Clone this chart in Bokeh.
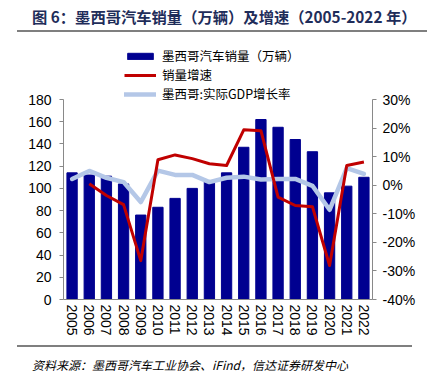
import math
from bokeh.plotting import figure
from bokeh.models import (Range1d, LinearAxis, FixedTicker, PrintfTickFormatter,
                          Legend, LegendItem, Div, FactorRange)
from bokeh.layouts import column
from bokeh.embed import file_html
from bokeh.resources import INLINE

# ---- data ----
years = [str(y) for y in range(2005, 2023)]
sales = [114, 112, 111, 104, 76, 83, 91, 100, 107, 114, 137, 162, 155, 144, 133, 96, 102, 110]
growth_years = years[1:]
growth = [0.5, -3.6, -6.8, -26.4, 8.9, 10.6, 9.3, 7.5, 6.9, 19.4, 19.1, -4.2, -7.1, -7.5, -28.1, 6.9, 8.1]
gdp = [2.2, 5.0, 2.6, 1.1, -5.9, 5.1, 3.6, 3.6, 1.1, 2.6, 3.0, 2.0, 2.2, 2.2, -0.2, -8.6, 6.0, 4.0]
left_ticks = [0, 20, 40, 60, 80, 100, 120, 140, 160, 180]
right_ticks = [-40, -30, -20, -10, 0, 10, 20, 30]

title_text = "图 6：墨西哥汽车销量（万辆）及增速（2005-2022 年）"
source_text = "资料来源：墨西哥汽车工业协会、iFind，信达证券研发中心"
label_sales = "墨西哥汽车销量（万辆）"
label_growth = "销量增速"
label_gdp = "墨西哥:实际GDP增长率"

BAR = "#000090"
RED = "#C00000"
LBLUE = "#B4C7E7"
AXIS = "#898989"
FONT = "Liberation Sans"
CJK = "Noto Sans CJK SC"

# frame is taller than the axes so the legend sits inside it, above the data
LEFT_TOP = 233.1
RIGHT_TOP = 50.65

p = figure(x_range=FactorRange(*years), y_range=Range1d(0, LEFT_TOP),
           width=410, height=313, output_backend="svg", toolbar_location=None,
           min_border_left=55, min_border_right=46, min_border_top=8, min_border_bottom=46)
p.extra_y_ranges = {"pct": Range1d(-40, RIGHT_TOP)}
p.outline_line_color = None
p.xgrid.grid_line_color = None
p.ygrid.grid_line_color = None
p.background_fill_color = "white"
p.border_fill_color = "white"

bars = p.vbar(x=years, top=sales, width=0.6, color=BAR)
blue = p.line(x=years, y=gdp, y_range_name="pct", line_color=LBLUE, line_width=4.5,
              line_join="round", line_cap="round")
red = p.line(x=growth_years, y=growth, y_range_name="pct", line_color=RED, line_width=3,
             line_join="round")

ax = p.yaxis[0]
ax.ticker = FixedTicker(ticks=left_ticks)
ax.bounds = (0, 180)
ax.axis_line_color = AXIS
ax.major_tick_line_color = AXIS
ax.major_tick_out = 4
ax.major_tick_in = 0
ax.minor_tick_line_color = None
ax.major_label_text_font = FONT
ax.major_label_text_font_size = "14px"
ax.major_label_text_color = "#000000"
ax.major_label_standoff = 8

rax = LinearAxis(y_range_name="pct", ticker=FixedTicker(ticks=right_ticks),
                 formatter=PrintfTickFormatter(format="%d%%"), bounds=(-40, 30))
rax.axis_line_color = AXIS
rax.major_tick_line_color = AXIS
rax.major_tick_out = 4
rax.major_tick_in = 0
rax.minor_tick_line_color = None
rax.major_label_text_font = FONT
rax.major_label_text_font_size = "14px"
rax.major_label_text_color = "#000000"
rax.major_label_standoff = 6
p.add_layout(rax, "right")

xa = p.xaxis[0]
xa.axis_line_color = AXIS
xa.major_tick_line_color = None
xa.major_tick_out = 0
xa.major_label_orientation = -math.pi / 2
xa.major_label_text_font = FONT
xa.major_label_text_font_size = "14px"
xa.major_label_text_color = "#000000"
xa.major_label_standoff = 5

legend = Legend(items=[LegendItem(label=label_sales, renderers=[bars]),
                       LegendItem(label=label_growth, renderers=[red]),
                       LegendItem(label=label_gdp, renderers=[blue])],
                location=(61, 196), orientation="vertical")
legend.background_fill_alpha = 0
legend.border_line_color = None
legend.padding = 0
legend.margin = 0
legend.spacing = 0
legend.glyph_width = 32
legend.glyph_height = 8
legend.label_height = 14
legend.label_standoff = 6
legend.label_text_font = CJK
legend.label_text_font_size = "12.5px"
legend.label_text_color = "#000000"
p.add_layout(legend)

title_div = Div(text=(
    '<div style="width:395px;margin-left:9px;height:22px;border-bottom:2px solid #7f7f7f;'
    'padding-left:15px;box-sizing:content-box;font-family:\'Noto Sans CJK SC\';font-weight:bold;'
    'font-size:15.3px;line-height:16px;color:#1f2d5a;white-space:nowrap;">'
    + title_text + '</div>'), width=410, height=24, margin=(0, 0, 0, 0))

source_div = Div(text=(
    '<div style="width:395px;margin-left:9px;border-top:2px solid #7f7f7f;'
    'padding-left:15px;padding-top:10px;font-family:\'Noto Sans CJK SC\';font-style:italic;'
    'font-size:12px;line-height:16px;color:#000000;white-space:nowrap;">'
    + source_text + '</div>'), width=410, height=32, margin=(0, 0, 0, 0))

layout = column(title_div, p, source_div, spacing=0, margin=(8, 0, 0, 8))
open("out.html", "w").write(file_html(layout, INLINE))
